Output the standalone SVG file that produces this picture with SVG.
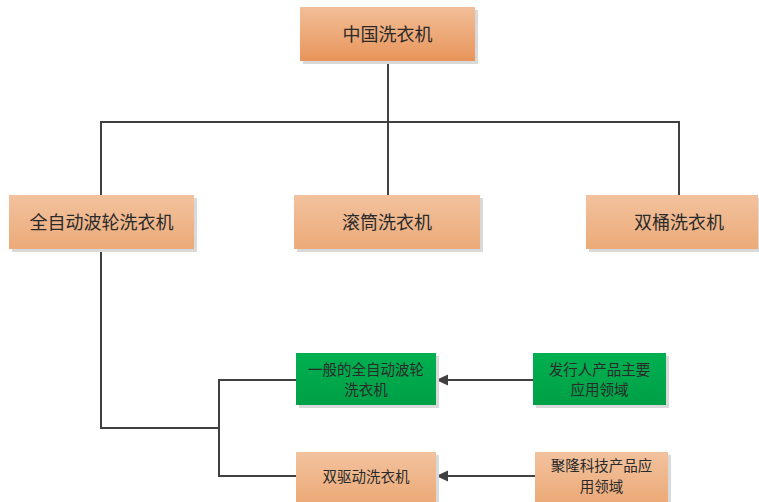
<svg xmlns="http://www.w3.org/2000/svg" width="759" height="502" viewBox="0 0 759 502">
<defs>
<linearGradient id="gTop" x1="0" y1="0" x2="0" y2="1"><stop offset="0" stop-color="#f2be98"/><stop offset="1" stop-color="#e8955a"/></linearGradient>
<linearGradient id="gOr" x1="0" y1="0" x2="0" y2="1"><stop offset="0" stop-color="#f2c29e"/><stop offset="1" stop-color="#ecaa78"/></linearGradient>
<linearGradient id="gGr" x1="0" y1="0" x2="0" y2="1"><stop offset="0" stop-color="#00b050"/><stop offset="1" stop-color="#00a046"/></linearGradient>
<marker id="arr" markerWidth="12" markerHeight="12" refX="11" refY="6" orient="auto" markerUnits="userSpaceOnUse" viewBox="0 0 12 12"><path d="M0,0.5 L12,6 L0,11.5 Z" fill="#404040"/></marker>
</defs>
<style>
.sh{fill:#d9d9d9}
.t{font-family:"Noto Sans CJK SC","Liberation Sans",sans-serif;fill:#2a2a2a;text-anchor:middle;dominant-baseline:central}
.big{font-size:18px}
.sm{font-size:14.5px}
.c{fill:none;stroke:#404040;stroke-width:2}
</style>
<rect width="759" height="502" fill="#fff"/>
<g id="connectors">
<path class="c" d="M388,61 V122 M101,195 V122 H679 V195 M388,122 V195"/>
<path class="c" d="M101,249 V428 H219 M296,380 H219 V476 H296"/>
<path class="c" d="M533,380 H437" marker-end="url(#arr)"/>
<path class="c" d="M535,476 H437" marker-end="url(#arr)"/>
</g>
<g id="n1"><rect class="sh" x="303" y="10" width="175" height="54"/><rect x="300" y="7" width="175" height="54" fill="url(#gTop)"/><text class="t big" x="387.5" y="32.5">中国洗衣机</text></g>
<g id="n2"><rect class="sh" x="12" y="198" width="185" height="54"/><rect x="9" y="195" width="185" height="54" fill="url(#gOr)"/><text class="t big" x="101.5" y="220.5">全自动波轮洗衣机</text></g>
<g id="n3"><rect class="sh" x="297" y="198" width="186" height="54"/><rect x="294" y="195" width="186" height="54" fill="url(#gOr)"/><text class="t big" x="387" y="220.5">滚筒洗衣机</text></g>
<g id="n4"><rect class="sh" x="589" y="198" width="172" height="54"/><rect x="586" y="195" width="172" height="54" fill="url(#gOr)"/><text class="t big" x="679" y="220.5">双桶洗衣机</text></g>
<g id="n5"><rect class="sh" x="299" y="356" width="140" height="52"/><rect x="296" y="353" width="140" height="52" fill="url(#gGr)"/><text class="t sm" x="366" y="368">一般的全自动波轮</text><text class="t sm" x="366" y="388">洗衣机</text></g>
<g id="n6"><rect class="sh" x="536" y="356" width="133" height="52"/><rect x="533" y="353" width="133" height="52" fill="url(#gGr)"/><text class="t sm" x="599.5" y="368">发行人产品主要</text><text class="t sm" x="599.5" y="388">应用领域</text></g>
<g id="n7"><rect class="sh" x="299" y="455" width="140" height="50"/><rect x="296" y="452" width="140" height="50" fill="url(#gOr)"/><text class="t sm" x="366" y="475">双驱动洗衣机</text></g>
<g id="n8"><rect class="sh" x="538" y="455" width="133" height="50"/><rect x="535" y="452" width="133" height="50" fill="url(#gOr)"/><text class="t sm" x="601.5" y="464">聚隆科技产品应</text><text class="t sm" x="601.5" y="485">用领域</text></g>
</svg>
